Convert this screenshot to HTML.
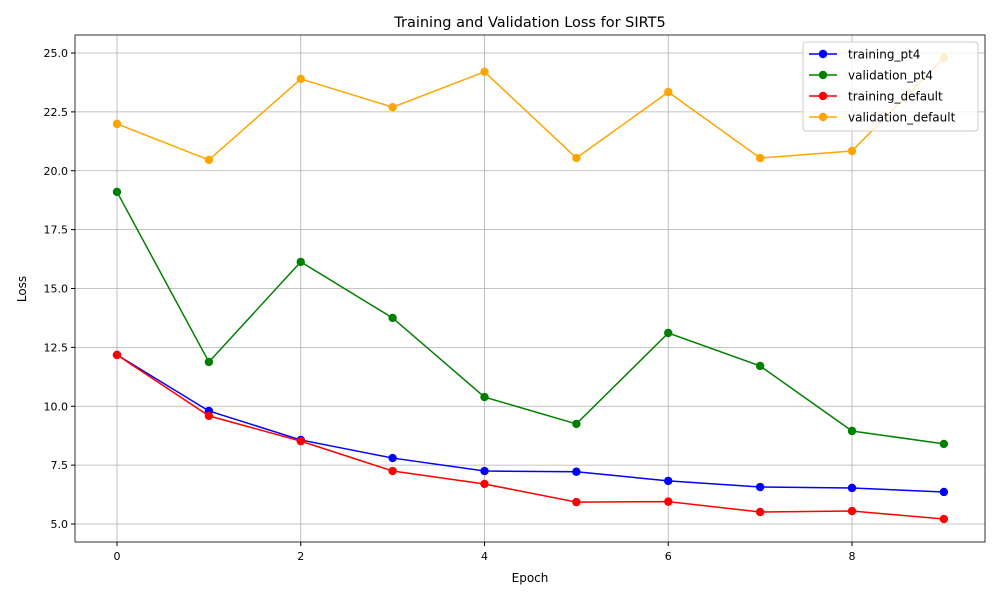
<!DOCTYPE html>
<html><head><meta charset="utf-8"><style>
body{margin:0;background:#fff;font-family:"Liberation Sans","DejaVu Sans",sans-serif}
text{font-family:"DejaVu Sans","Liberation Sans",sans-serif}
</style></head><body>
<svg id="chart" width="1000" height="600"></svg>
<script>
const epochs=[0,1,2,3,4,5,6,7,8,9];
const trainingPt4=[12.18,9.8,8.57,7.8,7.25,7.22,6.83,6.57,6.53,6.36];
const validationPt4=[19.1,11.88,16.13,13.75,10.39,9.25,13.11,11.71,8.95,8.40];
const trainingDefault=[12.18,9.59,8.52,7.25,6.70,5.93,5.95,5.51,5.55,5.21];
const validationDefault=[21.99,20.46,23.9,22.7,24.2,20.54,23.34,20.54,20.84,24.79];
const xTicks=[0,2,4,6,8];
const yTicks=[5.0,7.5,10.0,12.5,15.0,17.5,20.0,22.5,25.0];
const seriesNames=["training_pt4","validation_pt4","training_default","validation_default"];

const NS="http://www.w3.org/2000/svg";
const svg=document.getElementById('chart');
const L=75,R=985,T=35,B=542;
const xs=v=>117+v*91.875;
const ys=v=>524-(v-5)*(524-53)/20;
function el(tag,attrs,parent){const e=document.createElementNS(NS,tag);for(const k in attrs)e.setAttribute(k,attrs[k]);(parent||svg).appendChild(e);return e;}
function txt(s,attrs){const t=el('text',attrs);t.textContent=s;return t;}

xTicks.forEach(v=>{const g=el('line',{x1:xs(v),x2:xs(v),y1:T,y2:B,stroke:'#b0b0b0','stroke-width':0.8});

});
yTicks.forEach(v=>{const g=el('line',{x1:L,x2:R,y1:ys(v),y2:ys(v),stroke:'#b0b0b0','stroke-width':0.8});

});
xTicks.forEach(v=>{el('line',{x1:xs(v),x2:xs(v),y1:B,y2:B+4,stroke:'#000'});
const t=txt(String(v),{x:xs(v),y:B+18,'font-size':11,'text-anchor':'middle'});

});
yTicks.forEach(v=>{el('line',{x1:L-4,x2:L,y1:ys(v),y2:ys(v),stroke:'#000'});
const t=txt(v.toFixed(1),{x:L-7,y:ys(v)+4,'font-size':11,'text-anchor':'end'});

});

const colors=['#0000ff','#008000','#ff0000','#ffa500'];
const data=[trainingPt4,validationPt4,trainingDefault,validationDefault];
data.forEach((arr,i)=>{
 const p=el('polyline',{points:arr.map((v,j)=>xs(epochs[j])+','+ys(v)).join(' '),fill:'none',stroke:colors[i],'stroke-width':1.5});
 
 
 arr.forEach((v,j)=>{const c=el('circle',{cx:xs(epochs[j]),cy:ys(v),r:4.2,fill:colors[i]});
 
 });
});
const fr=el('rect',{x:L,y:T,width:R-L,height:B-T,fill:'none',stroke:'#000','stroke-width':0.8});



let t=txt('Training and Validation Loss for SIRT5',{x:(L+R)/2,y:27,'font-size':14.5,'text-anchor':'middle'});


t=txt('Epoch',{x:(L+R)/2,y:582,'font-size':12,'text-anchor':'middle'});


t=txt('Loss',{x:0,y:0,'font-size':12,'text-anchor':'middle',transform:'translate(26,289) rotate(-90)'});



const lg=el('rect',{x:803,y:42,width:175,height:89,fill:'#fff','fill-opacity':0.8,stroke:'#ccc',rx:3});


seriesNames.forEach((n,i)=>{const y=54+i*21;
 el('line',{x1:809,x2:837,y1:y,y2:y,stroke:colors[i],'stroke-width':1.5});
 el('circle',{cx:823,cy:y,r:4.2,fill:colors[i]});
 const lt=txt(n,{x:848,y:y+4.5,'font-size':12});
 
 
});
</script>
</body></html>
